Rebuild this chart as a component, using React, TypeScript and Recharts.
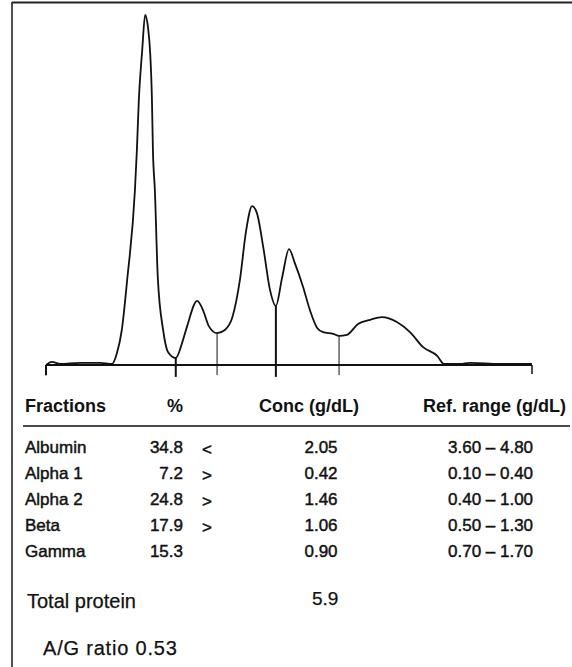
import { Line, LineChart, ReferenceLine, XAxis, YAxis } from 'recharts';

// densitometry trace, migration 0-100 (anode -> cathode), density relative to albumin peak
const migration = [
  0, 1.2, 2.9, 7.0, 11.1, 13.6, 14.6, 15.6, 16.7, 18.3, 18.7, 19.1, 19.8, 20.4, 21.0, 21.4, 21.8, 22.0, 22.4,
  23.0, 24.1, 25.1, 26.7, 28.0, 29.0, 31.1, 32.3, 33.5, 35.2, 36.8, 38.3, 39.9, 41.2, 42.4, 43.4, 44.7, 46.1,
  47.3, 48.6, 50.0, 51.2, 52.9, 54.3, 55.8, 57.0, 59.1, 60.3, 61.9, 64.2, 66.7, 69.1, 72.2, 74.9, 77.6, 80.5,
  81.9, 85.2, 87.2, 93.4, 100,
];
const density = [
  0, 0.9, 0.3, 0.6, 0.6, 0.3, 3.4, 10.0, 24.3, 50.0, 61.4, 75.7, 90.0, 100, 96.3, 90.0, 75.7, 61.4, 50.0,
  25.1, 10.0, 3.7, 2.0, 6.3, 10.9, 18.3, 15.7, 11.1, 9.1, 10.0, 13.4, 24.3, 38.6, 45.4, 43.4, 33.7, 21.4,
  16.9, 25.1, 33.1, 29.1, 22.3, 15.7, 10.6, 9.4, 8.9, 8.3, 8.6, 11.7, 12.9, 13.7, 12.3, 9.4, 5.1, 2.6,
  0.3, 0.3, 0.6, 0.3, 0.3,
];

// fraction cut points on the trace
const cutX = [26.7, 35.2, 47.3, 60.3];
const cutY = [2.0, 9.1, 16.9, 8.3];
const cutBold = [true, false, true, false];

const fractions = ['Albumin', 'Alpha 1', 'Alpha 2', 'Beta', 'Gamma'];
const percents = ['34.8', '7.2', '24.8', '17.9', '15.3'];
const flags = ['<', '>', '>', '>', ''];
const concs = ['2.05', '0.42', '1.46', '1.06', '0.90'];
const refRanges = ['3.60 – 4.80', '0.10 – 0.40', '0.40 – 1.00', '0.50 – 1.30', '0.70 – 1.70'];
const totalProtein = '5.9';
const agRatio = '0.53';

const trace = migration.map((x, i) => ({ x, y: density[i] }));

const ink = '#111';
const sans = '"Liberation Sans", Arial, sans-serif';

export default function App() {
  return (
    <div style={{ position: 'absolute', top: 0, left: 0, width: 572, height: 667, background: '#fff' }}>
      <div style={{ position: 'absolute', top: 0, left: 0 }}>
        <LineChart width={572} height={400} data={trace} margin={{ top: 15, right: 40, bottom: 0, left: 46 }}>
          <XAxis dataKey="x" type="number" domain={[0, 100]} hide />
          <YAxis type="number" domain={[-10, 100]} hide />
          <ReferenceLine y={0} stroke={ink} strokeWidth={1.8} />
          <ReferenceLine segment={[{ x: 0, y: 0 }, { x: 0, y: -2.9 }]} stroke={ink} strokeWidth={2} />
          <ReferenceLine segment={[{ x: 100, y: 0 }, { x: 100, y: -2.6 }]} stroke={ink} strokeWidth={1.5} />
          {cutX.map((cx, i) => (
            <ReferenceLine
              key={cx}
              segment={[{ x: cx, y: cutY[i] }, { x: cx, y: cutBold[i] ? -3.4 : -2.9 }]}
              stroke={ink}
              strokeWidth={cutBold[i] ? 2 : 1}
            />
          ))}
          <Line
            type="monotone"
            dataKey="y"
            stroke={ink}
            strokeWidth={1.8}
            dot={false}
            isAnimationActive={false}
          />
        </LineChart>
      </div>
      <svg width={572} height={667} style={{ position: 'absolute', top: 0, left: 0, pointerEvents: 'none' }}>
        <line x1={12} y1={2.5} x2={572} y2={2.5} stroke="#222" strokeWidth={2} />
        <line x1={12} y1={2} x2={12} y2={667} stroke="#222" strokeWidth={1.6} />
        <g fontFamily={sans} fill={ink}>
          <g fontWeight="bold" fontSize={18}>
            <text x={25} y={412}>Fractions</text>
            <text x={167} y={412}>%</text>
            <text x={259} y={412}>Conc (g/dL)</text>
            <text x={423} y={412}>Ref. range (g/dL)</text>
          </g>
          <line x1={23} y1={426} x2={570} y2={426} stroke={ink} strokeWidth={1.5} />
          {/* scanned print is heavy, thicken the body text a little */}
          <g fontSize={17} stroke={ink} strokeWidth={0.45}>
            {fractions.map((f, i) => {
              const y = 453 + i * 26;
              return (
                <g key={f}>
                  <text x={25} y={y}>{f}</text>
                  <text x={183} y={y} textAnchor="end">{percents[i]}</text>
                  <text x={202} y={y + 2}>{flags[i]}</text>
                  <text x={321} y={y} textAnchor="middle">{concs[i]}</text>
                  <text x={448} y={y}>{refRanges[i]}</text>
                </g>
              );
            })}
          </g>
          <g stroke={ink} strokeWidth={0.25}>
            <text x={27} y={608} fontSize={20}>Total protein</text>
            <text x={312} y={605} fontSize={19}>{totalProtein}</text>
            <text x={43} y={655} fontSize={20} letterSpacing={0.8}>A/G ratio {agRatio}</text>
          </g>
        </g>
      </svg>
    </div>
  );
}
